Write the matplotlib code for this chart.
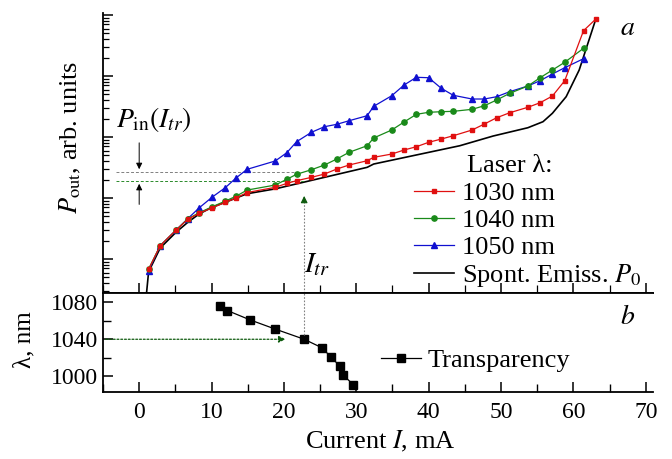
import numpy as np
import matplotlib
matplotlib.use("Agg")
import matplotlib.pyplot as plt
from matplotlib.lines import Line2D
from matplotlib.ticker import MultipleLocator, LogLocator, NullFormatter

plt.rcParams['font.family'] = ['Liberation Serif', 'DejaVu Serif']
plt.rcParams['mathtext.fontset'] = 'stix'

# current points of the laser-injection curves, mA
cur_las = [1.3, 2.9, 5.1, 6.7, 8.3, 10.1, 11.9, 13.4, 14.9, 18.8, 20.4, 21.75,
           23.8, 25.6, 27.3, 29.0, 31.5, 32.4, 34.9, 36.6, 38.3, 40.0, 41.75,
           43.4, 46.0, 47.7, 49.4, 51.2, 53.7, 55.4, 57.1, 58.8, 61.4]
cur_1030 = cur_las + [63.1]

# log10 of P_out (arb. units)
lg_1030 = [-0.17, 0.218, 0.475, 0.65, 0.75, 0.84, 0.93, 1.0, 1.09, 1.175, 1.24,
           1.284, 1.339, 1.393, 1.475, 1.541, 1.611, 1.667, 1.721, 1.787, 1.841,
           1.913, 1.967, 2.021, 2.115, 2.213, 2.316, 2.398, 2.487, 2.562, 2.672,
           2.923, 3.743, 3.934]
lg_1040 = [-0.164, 0.218, 0.475, 0.656, 0.76, 0.857, 0.95, 1.03, 1.13, 1.213,
           1.307, 1.389, 1.464, 1.541, 1.639, 1.749, 1.857, 1.984, 2.115, 2.246,
           2.372, 2.405, 2.415, 2.421, 2.454, 2.513, 2.607, 2.716, 2.836, 2.972,
           3.098, 3.225, 3.454]
lg_1050 = [-0.19, 0.218, 0.475, 0.66, 0.84, 1.016, 1.17, 1.33, 1.47, 1.607,
           1.743, 1.923, 2.077, 2.169, 2.208, 2.267, 2.349, 2.503, 2.677, 2.852,
           2.979, 2.972, 2.798, 2.684, 2.623, 2.623, 2.661, 2.743, 2.836, 2.923,
           3.033, 3.136, 3.284]

# spontaneous emission P0
cur_sp = [0.9, 1.3, 2.9, 5.1, 6.7, 8.3, 10.1, 11.9, 14.9, 18.8, 31.5, 32.4,
          44.3, 48.9, 53.7, 55.8, 57.1, 59.0, 60.8, 63.1]
lg_sp = [-0.7, -0.21, 0.18, 0.44, 0.6, 0.74, 0.85, 0.93, 1.07, 1.15, 1.503,
         1.557, 1.857, 2.016, 2.152, 2.251, 2.389, 2.661, 3.098, 3.934]

# transparency current vs wavelength
cur_tr = [11.2, 12.2, 15.3, 18.8, 22.8, 25.2, 26.5, 27.7, 28.2, 29.6]
lam_tr = [1076, 1071, 1061, 1051, 1040, 1031, 1021, 1011, 1001, 991]

I_tr = 22.8
lg_pin = 1.426   # P_in(I_tr)
lg_p0 = 1.279    # P0(I_tr)

fig = plt.figure(figsize=(6.72, 4.59), dpi=100)
ax = fig.add_axes([103/672, 1-293/459, 550/672, 280/459])
axb = fig.add_axes([103/672, 1-392/459, 550/672, 99/459])

ax.plot(cur_sp, 10**np.array(lg_sp), color='black', lw=1.2, zorder=2)
ax.plot(cur_las, 10**np.array(lg_1050), color='#1010d0', marker='^', ms=4.5, lw=0.9, zorder=3)
ax.plot(cur_las, 10**np.array(lg_1040), color='#1a8a1a', marker='o', ms=3.8, lw=0.9, zorder=4)
ax.plot(cur_1030, 10**np.array(lg_1030), color='#e01010', marker='s', ms=3.3, lw=0.9, zorder=5)

ax.set_yscale('log')
ax.set_ylim(10**-0.557, 10**4.033)
ax.set_xlim(-5, 71)

# dashed levels and arrows
ax.plot([-3.2, 22.0], [10**lg_pin]*2, color='gray', ls=(0, (3, 2)), lw=0.7)
ax.plot([-3.2, I_tr], [10**lg_p0]*2, color='#2a8a2a', ls=(0, (3, 2)), lw=0.7)
ax.annotate('', xy=(0, 10**lg_pin), xytext=(0, 10**1.95),
            arrowprops=dict(arrowstyle='-|>', color='black', lw=0.7, mutation_scale=9))
ax.annotate('', xy=(0, 10**lg_p0), xytext=(0, 10**0.85),
            arrowprops=dict(arrowstyle='-|>', color='black', lw=0.7, mutation_scale=9))
ax.plot([I_tr, I_tr], [10**-0.557, 10**0.95], color='gray', ls=(0, (1.5, 1.5)), lw=0.8)
ax.annotate('', xy=(I_tr, 10**1.08), xytext=(I_tr, 10**0.9),
            arrowprops=dict(arrowstyle='-|>', color='#0d5a0d', lw=0.8, mutation_scale=10))

ax.text(-3.2, 10**2.29, r'$P_{\rm in}(I_{tr})$', fontsize=20, va='center', ha='left')
ax.text(22.8, 10**-0.1, r'$I_{tr}$', fontsize=21, va='center', ha='left')
ax.text(67.5, 10**3.78, r'$a$', fontsize=20, va='center', ha='center')

for s in ['top', 'right']:
    ax.spines[s].set_visible(False)
for s in ax.spines.values():
    s.set_linewidth(1.3)
ax.yaxis.set_major_locator(LogLocator(base=10, numticks=10))
ax.yaxis.set_minor_locator(LogLocator(base=10, subs=np.arange(2, 10), numticks=20))
ax.yaxis.set_major_formatter(NullFormatter())
ax.yaxis.set_minor_formatter(NullFormatter())
ax.xaxis.set_major_locator(MultipleLocator(10))
ax.xaxis.set_minor_locator(MultipleLocator(5))
ax.tick_params(which='major', direction='in', length=7, width=1.1, labelbottom=False)
ax.tick_params(which='minor', direction='in', length=4, width=0.9)
ax.tick_params(axis='x', which='minor', length=6)

handles = [Line2D([], [], color='#e01010', marker='s', ms=3.3, lw=0.9),
           Line2D([], [], color='#1a8a1a', marker='o', ms=3.8, lw=0.9),
           Line2D([], [], color='#1010d0', marker='^', ms=4.5, lw=0.9),
           Line2D([], [], color='black', lw=1.2)]
labels = ['1030 nm', '1040 nm', '1050 nm', r'Spont. Emiss. $P_0$']
ax.legend(handles, labels, loc='upper left', bbox_to_anchor=(414/672, 1-182/459),
          bbox_transform=fig.transFigure, frameon=False, fontsize=19,
          handlelength=1.5, handletextpad=0.3, labelspacing=0.12,
          borderpad=0, borderaxespad=0)
fig.text(467/672, 1-166/459, 'Laser λ:', fontsize=19, va='center', ha='left')

# bottom panel
axb.plot(cur_tr, lam_tr, color='black', marker='s', ms=6, lw=0.9)
axb.set_ylim(983, 1090)
axb.annotate('', xy=(20.6, 1040), xytext=(-5, 1040),
             arrowprops=dict(arrowstyle='-|>', color='#0d5a0d', lw=0.9, ls=(0, (1.5, 1.5)),
                             mutation_scale=10))
axb.plot([I_tr, I_tr], [1045, 1090], color='gray', ls=(0, (1.5, 1.5)), lw=0.8)
axb.text(67.5, 1063, r'$b$', fontsize=20, va='center', ha='center')
axb.legend([Line2D([], [], color='black', marker='s', ms=6, lw=0.9)], ['Transparency'],
           loc='center left', bbox_to_anchor=(381/672, 1-360/459), bbox_transform=fig.transFigure,
           frameon=False, fontsize=19, handlelength=1.5, handletextpad=0.25,
           borderpad=0, borderaxespad=0)

axb.spines['right'].set_visible(False)
for s in axb.spines.values():
    s.set_linewidth(1.3)
axb.set_yticks([1000, 1040, 1080])
axb.yaxis.set_minor_locator(MultipleLocator(20))
axb.xaxis.set_major_locator(MultipleLocator(10))
axb.xaxis.set_minor_locator(MultipleLocator(5))
axb.tick_params(which='major', direction='in', length=7, width=1.1, labelsize=17)
axb.tick_params(axis='x', which='major', pad=7)
axb.tick_params(which='minor', direction='in', length=6, width=1.0)
axb.set_xlim(-5, 71)

fig.text(70/672, 1-137/459, r'$P_{\rm out}$, arb. units', fontsize=19, rotation=90,
         va='center', ha='center')
fig.text(24/672, 1-340/459, 'λ, nm', fontsize=18, rotation=90,
         va='center', ha='center')
fig.text(380/672, 1-441/459, r'Current $I$, mA', fontsize=19, va='center', ha='center')

fig.savefig('out.png', dpi=100)
